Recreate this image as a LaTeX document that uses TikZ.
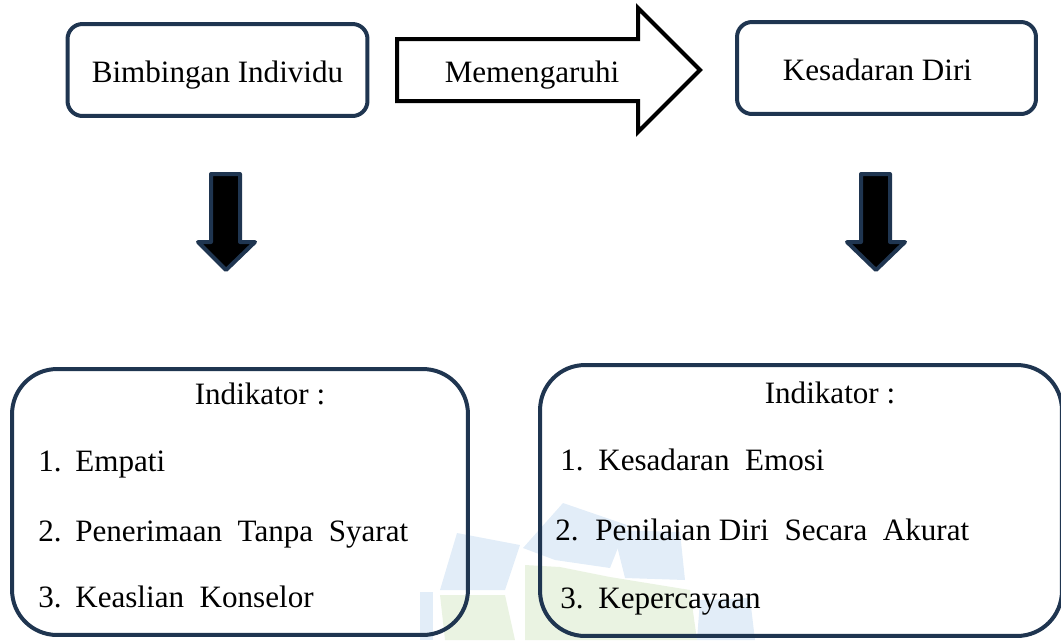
\documentclass[tikz,border=0pt]{standalone}
\usepackage{fontspec}
\setmainfont{Liberation Serif}

\definecolor{tepi}{HTML}{1F3550}
\definecolor{wmbiru}{HTML}{E2EDF8}
\definecolor{wmhijau}{HTML}{EAF3E2}

\tikzset{
  huruf/.style={font=\fontsize{17.7}{21}\selectfont},
  kotak/.style={huruf, draw=tepi, line width=0.08cm, rounded corners=0.3cm,
    minimum width=6cm, minimum height=1.84cm, text height=14pt, text depth=0pt},
  kotakind/.style={draw=tepi, line width=0.08cm, rounded corners=0.9cm},
  teks/.style={huruf, inner sep=0pt},
  panahbawah/.style={fill=black, draw=tepi, line width=0.08cm, line join=round},
}

\begin{document}
\begin{tikzpicture}[x=0.02cm, y=-0.02cm]

\useasboundingbox (0,0) rectangle (1061,640);

% Tanda air
\fill[wmbiru]
(440,590) -- (457,533) -- (520,545) -- (505,590) -- cycle;
\fill[wmbiru]
(523,548) -- (563,503) -- (627,525) -- (610,568) -- (555,560) -- cycle;
\fill[wmbiru]
(613,530) -- (680,532) -- (685,580) -- (625,578) -- cycle;
\fill[wmbiru]
(697,640) -- (700,600) -- (750,598) -- (755,640) -- cycle;
\fill[wmbiru]
(420,592) -- (433,592) -- (433,640) -- (420,640) -- cycle;
\fill[wmhijau]
(440,595) -- (505,595) -- (515,640) -- (445,640) -- cycle;
\fill[wmhijau]
(525,565) -- (560,567) -- (610,577) -- (690,590) -- (697,640) -- (525,640) -- cycle;

% Kotak atas
\node[kotak] (bimbingan) at (217.5,70) {Bimbingan Individu};
\node[kotak, minimum width=5.98cm] (kesadaran) at (886.5,68) {\hspace*{-0.36cm}Kesadaran Diri};

% Panah besar
\draw[line width=0.08cm]
(397,39)
-- (638,39)
-- (638,8)
-- (700,70)
-- (638,132)
-- (638,101)
-- (397,101)
-- cycle;

\node[teks, anchor=base] (pengaruh) at (532,82) {Memengaruhi};

% Panah ke bawah
\draw[panahbawah]
(211,174) -- (240,174) -- (240,242) -- (255,242)
-- (226,270) -- (198,242) -- (211,242) -- cycle;

\draw[panahbawah]
(861,174) -- (890,174) -- (890,242) -- (905,242)
-- (876,270) -- (847,242) -- (861,242) -- cycle;

% Kotak indikator
\node[kotakind, minimum width=9.12cm, minimum height=5.32cm] (indkiri) at (240,502) {};
\node[kotakind, minimum width=10.44cm, minimum height=5.42cm] (indkanan) at (801,500.5) {};

% Isi kiri
\node[teks, anchor=base] (judulkiri) at (260,404) {Indikator :};
\node[teks, anchor=base west] (kiri1) at (38,471) {\makebox[0.74cm][l]{1.}Empati};
\node[teks, anchor=base west] (kiri2) at (38,541) {\makebox[0.74cm][l]{2.}Penerimaan\ \ Tanpa\ \ Syarat};
\node[teks, anchor=base west] (kiri3) at (38,607) {\makebox[0.74cm][l]{3.}Keaslian\ \ Konselor};

% Isi kanan
\node[teks, anchor=base] (judulkanan) at (830,403) {Indikator :};
\node[teks, anchor=base west] (kanan1) at (560,470) {\makebox[0.76cm][l]{1.}Kesadaran\ \ Emosi};
\node[teks, anchor=base west] (kanan2) at (555,540) {\makebox[0.8cm][l]{2.}Penilaian Diri\ \ Secara\ \ Akurat};
\node[teks, anchor=base west] (kanan3) at (560,608) {\makebox[0.76cm][l]{3.}Kepercayaan};

\end{tikzpicture}
\end{document}
